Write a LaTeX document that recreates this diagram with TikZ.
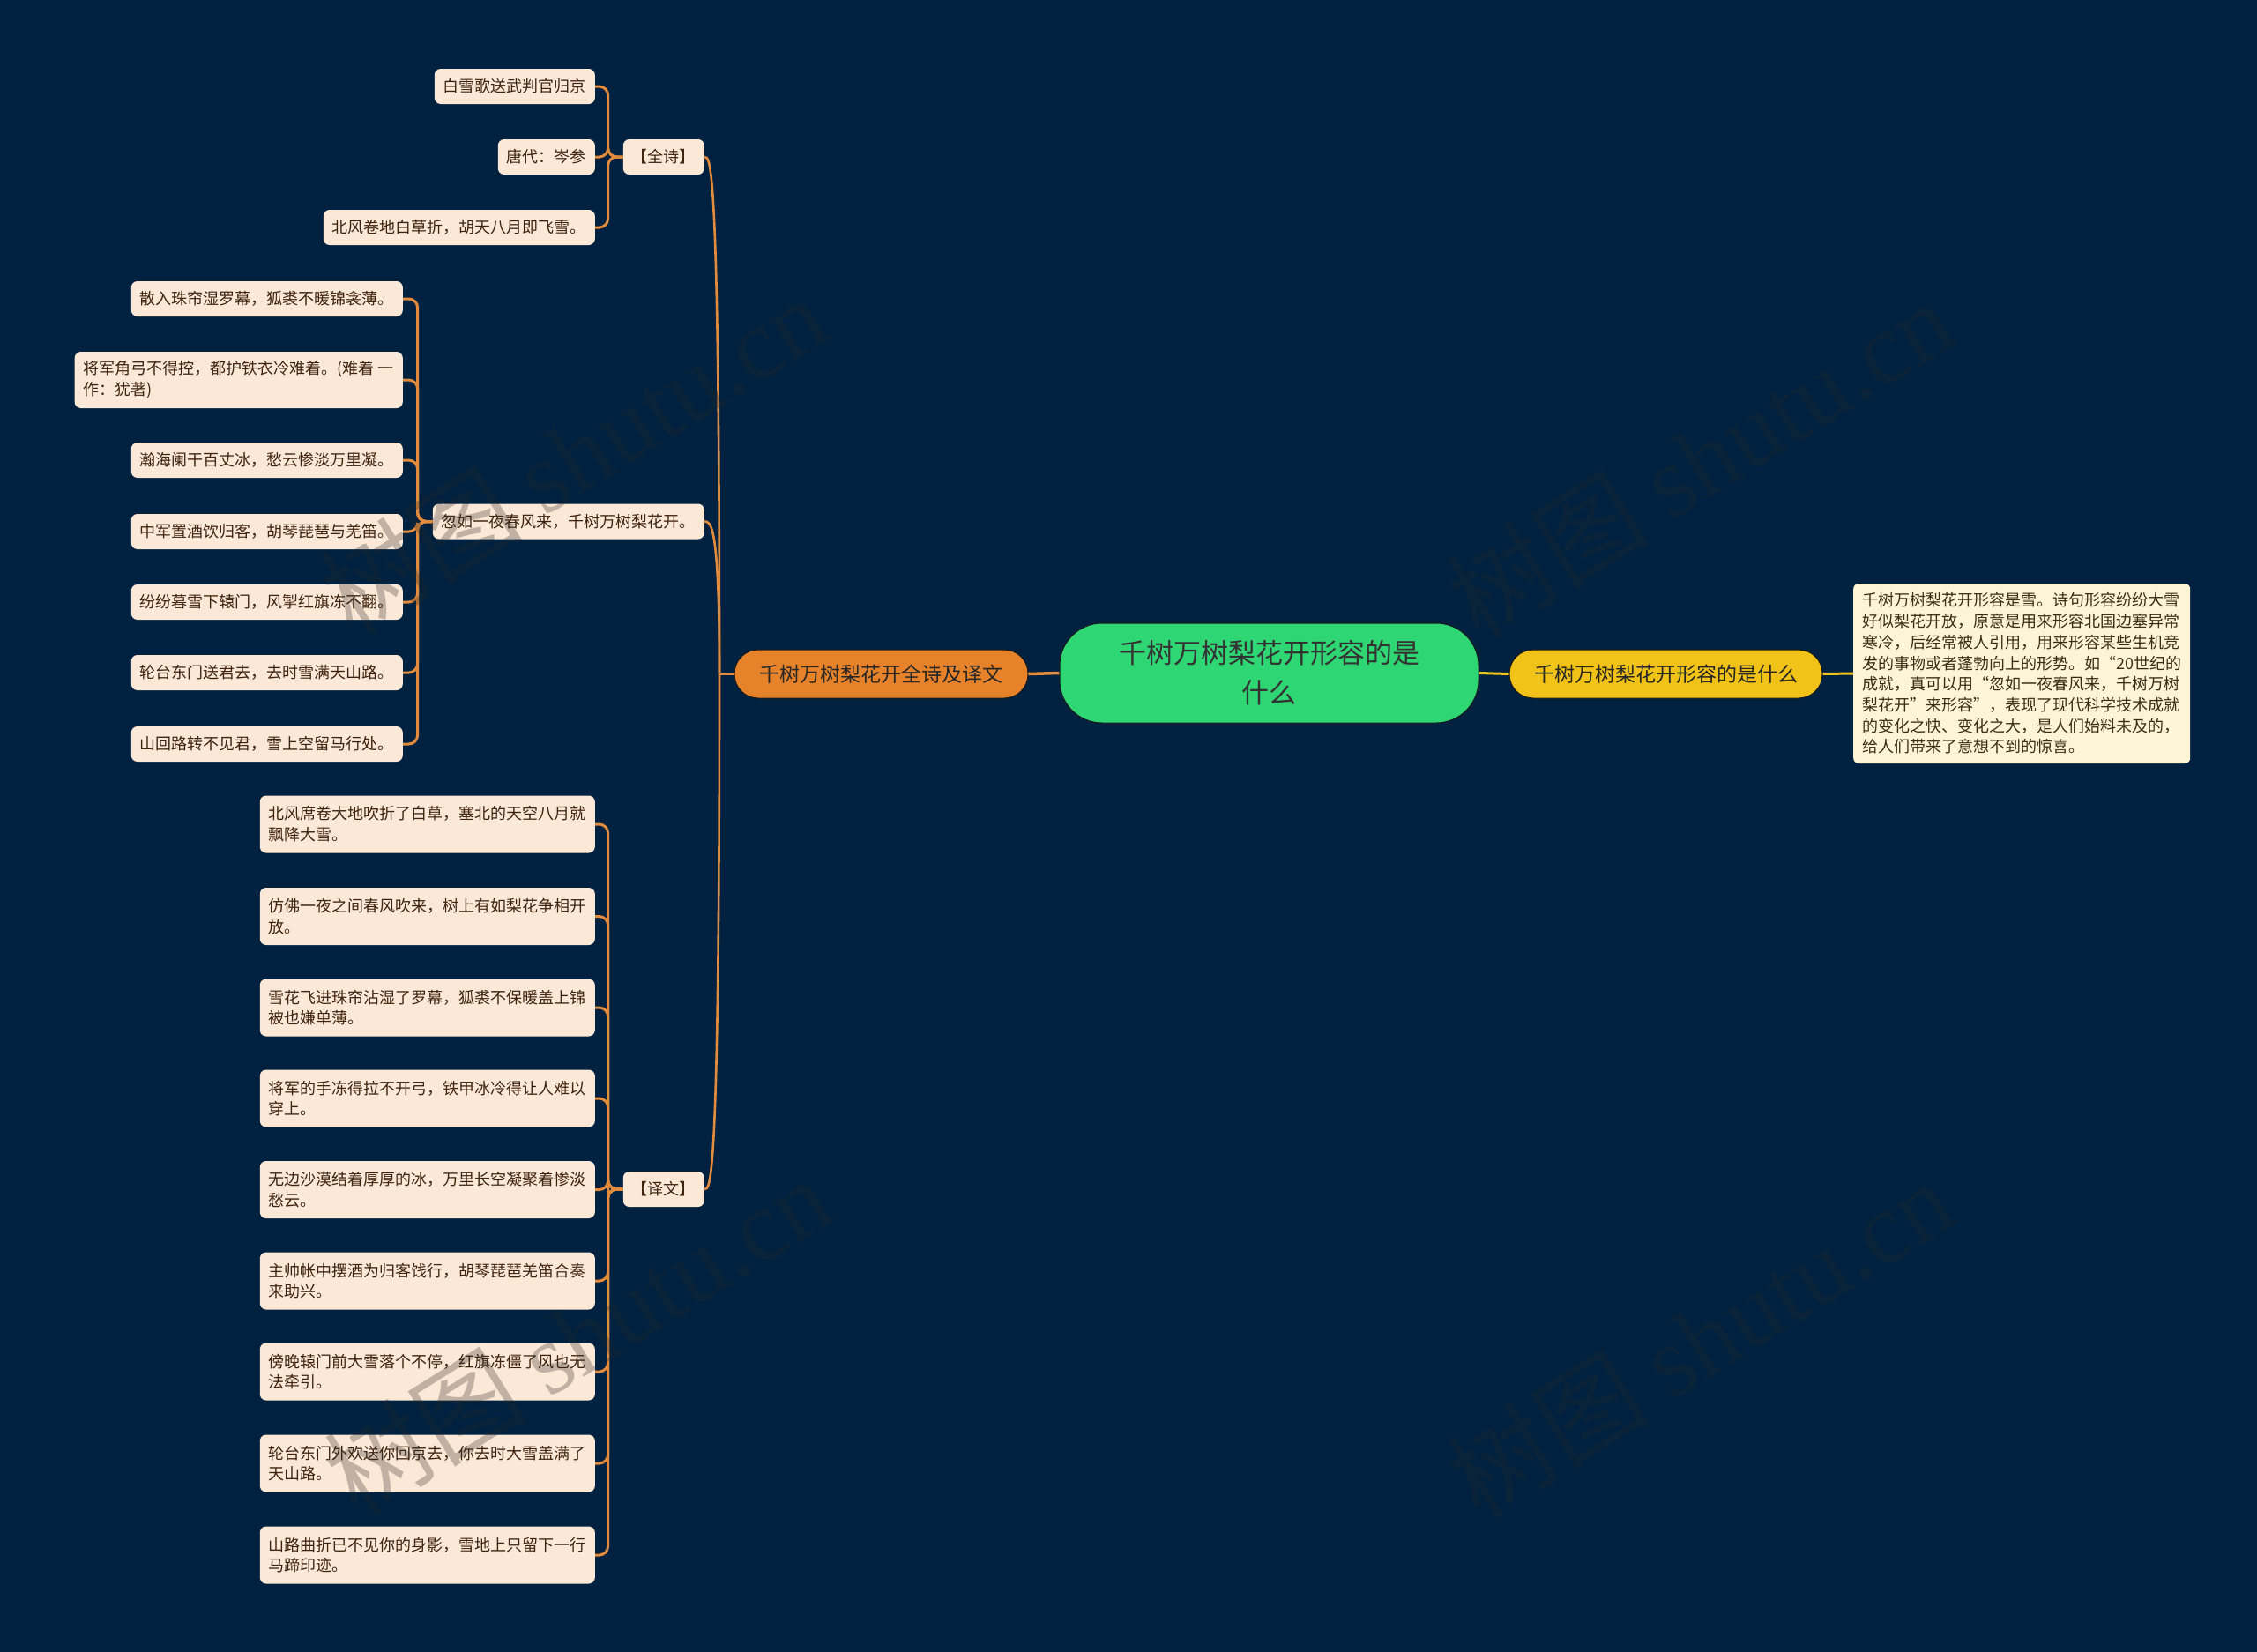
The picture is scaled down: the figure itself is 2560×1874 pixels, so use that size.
\documentclass[tikz,border=0pt]{standalone}
\usepackage{fontspec}
\setmainfont{Noto Sans CJK SC}
\newfontfamily\wmlatin{Liberation Serif}
\usetikzlibrary{calc}
\definecolor{bg}{HTML}{002240}
\definecolor{cream}{HTML}{FCE8D6}
\definecolor{creamtxt}{HTML}{3D2410}
\definecolor{ornode}{HTML}{E6822A}
\definecolor{orline}{HTML}{E28B3C}
\definecolor{grnode}{HTML}{2FD674}
\definecolor{yenode}{HTML}{F1C318}
\definecolor{boxfill}{HTML}{FCF4D4}
\definecolor{boxtxt}{HTML}{3A2E10}
\definecolor{edge}{HTML}{1A1A1A}
\definecolor{wm}{HTML}{262626}
\begin{document}
\begin{tikzpicture}[x=1pt,y=-1pt,
  leaf/.style={fill=cream, text=creamtxt, rounded corners=7pt, inner xsep=10pt, inner ysep=0pt,
    minimum height=40pt, font=\fontsize{18}{23.7}\selectfont, align=left, anchor=east},
  leaftwo/.style={leaf, minimum height=65pt},
  branch/.style={rounded corners=27pt, minimum height=55pt, draw=edge, line width=1pt,
    font=\fontsize{23}{28}\selectfont, text=black!85, align=center},
  bracket/.style={draw=orline, line width=3pt, rounded corners=10pt},
  mainline/.style={draw=orline, line width=2.6pt},
  yeline/.style={draw=yenode, line width=3pt},
  watermark/.style={rotate=32, text=wm, text opacity=0.28, font=\fontsize{115}{120}\selectfont}
]
\fill[bg] (0,0) rectangle (2560,1874);
\useasboundingbox (0,0) rectangle (2560,1874);

% central and first level
\node[fill=grnode, draw=edge, line width=1pt, rounded corners=48pt, minimum width=475pt, minimum height=113pt,
  font=\fontsize{31}{45}\selectfont, text=black!80, align=center] (root) at (1439.5,763.5) {千树万树梨花开形容的是\\什么};
\node[branch, fill=ornode, minimum width=333pt] (poem) at (999.5,764.5) {千树万树梨花开全诗及译文};
\node[branch, fill=yenode, minimum width=355pt] (mean) at (1889.5,764.5) {千树万树梨花开形容的是什么};
\node[fill=boxfill, text=boxtxt, rounded corners=6pt, inner xsep=10pt, inner ysep=0pt, minimum height=204pt,
  font=\fontsize{18}{23.7}\selectfont, align=left, anchor=west] (desc) at (2102,764) {千树万树梨花开形容是雪。诗句形容纷纷大雪\\好似梨花开放，原意是用来形容北国边塞异常\\寒冷，后经常被人引用，用来形容某些生机竞\\发的事物或者蓬勃向上的形势。如“20世纪的\\成就，真可以用“忽如一夜春风来，千树万树\\梨花开”来形容”，表现了现代科学技术成就\\的变化之快、变化之大，是人们始料未及的，\\给人们带来了意想不到的惊喜。};

% second level
\node[leaf] (qs) at (799,178) {【全诗】};
\node[leaf] (hr) at (799,591.5) {忽如一夜春风来，千树万树梨花开。};
\node[leaf] (yw) at (799,1349) {【译文】};

% third level: full poem
\node[leaf] (q1) at (675,98) {白雪歌送武判官归京};
\node[leaf] (q2) at (675,178) {唐代：岑参};
\node[leaf] (q3) at (675,258) {北风卷地白草折，胡天八月即飞雪。};

\node[leaf] (h1) at (457,339) {散入珠帘湿罗幕，狐裘不暖锦衾薄。};
\node[leaftwo, minimum height=64pt] (h2) at (457,431) {将军角弓不得控，都护铁衣冷难着。(难着 一\\作：犹著)};
\node[leaf] (h3) at (457,522) {瀚海阑干百丈冰，愁云惨淡万里凝。};
\node[leaf] (h4) at (457,603) {中军置酒饮归客，胡琴琵琶与羌笛。};
\node[leaf] (h5) at (457,683) {纷纷暮雪下辕门，风掣红旗冻不翻。};
\node[leaf] (h6) at (457,763) {轮台东门送君去，去时雪满天山路。};
\node[leaf] (h7) at (457,844) {山回路转不见君，雪上空留马行处。};

\node[leaftwo] (y1) at (675,935) {北风席卷大地吹折了白草，塞北的天空八月就\\飘降大雪。};
\node[leaftwo] (y2) at (675,1039.5) {仿佛一夜之间春风吹来，树上有如梨花争相开\\放。};
\node[leaftwo] (y3) at (675,1143) {雪花飞进珠帘沾湿了罗幕，狐裘不保暖盖上锦\\被也嫌单薄。};
\node[leaftwo] (y4) at (675,1246) {将军的手冻得拉不开弓，铁甲冰冷得让人难以\\穿上。};
\node[leaftwo] (y5) at (675,1349.5) {无边沙漠结着厚厚的冰，万里长空凝聚着惨淡\\愁云。};
\node[leaftwo] (y6) at (675,1453) {主帅帐中摆酒为归客饯行，胡琴琵琶羌笛合奏\\来助兴。};
\node[leaftwo] (y7) at (675,1556) {傍晚辕门前大雪落个不停，红旗冻僵了风也无\\法牵引。};
\node[leaftwo] (y8) at (675,1660) {轮台东门外欢送你回京去，你去时大雪盖满了\\天山路。};
\node[leaftwo] (y9) at (675,1764) {山路曲折已不见你的身影，雪地上只留下一行\\马蹄印迹。};

% connectors: root
\draw[mainline, line width=3.5pt] (root.west) -- (poem.east);
\draw[yeline] (root.east) -- (mean.west);
\draw[yeline] (mean.east) -- (desc.west);

% connectors: poem -> second level
\coordinate (oj) at (816,764.5);
\draw[mainline] (poem.west) -- (oj);
\foreach \t in {qs,hr,yw}{
  \draw[mainline] (oj) .. controls (oj |- \t.east) and ($(\t.east)+(7,0)$) .. (\t.east);
}

% brackets
\foreach \c in {q1,q2,q3}{
  \draw[bracket] (qs.west) -- ++(-17,0) |- (\c.east);
}
\foreach \c in {h1,h2,h3,h4,h5,h6,h7}{
  \draw[bracket] (hr.west) -- ++(-17,0) |- (\c.east);
}
\foreach \c in {y1,y2,y3,y4,y5,y6,y7,y8,y9}{
  \draw[bracket] (yw.west) -- ++(-17,0) |- (\c.east);
}

% watermarks
\node[watermark] (w1) at (650,515) {树图 {\wmlatin shutu.cn}};
\node[watermark] (w2) at (1928,520) {树图 {\wmlatin shutu.cn}};
\node[watermark] (w3) at (655,1515) {树图 {\wmlatin shutu.cn}};
\node[watermark] (w4) at (1928,1518) {树图 {\wmlatin shutu.cn}};
\end{tikzpicture}
\end{document}
